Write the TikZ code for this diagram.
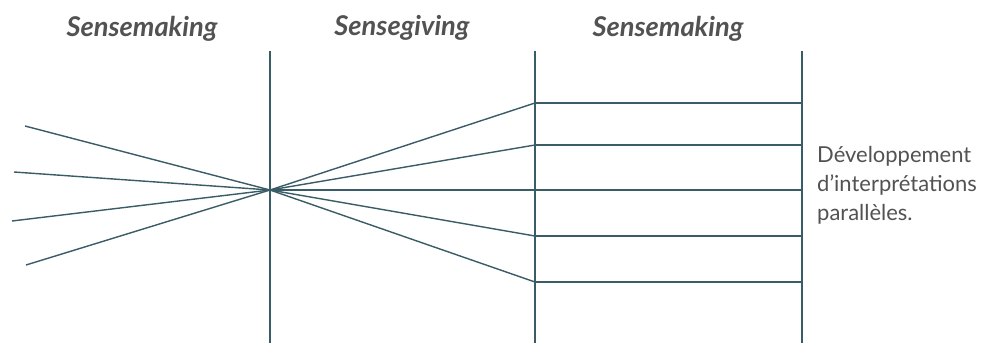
\documentclass[tikz,border=0pt]{standalone}
\usepackage{fontspec}
\setmainfont{Lato}
\usepackage{xcolor}
\usepackage{tikz}
\usetikzlibrary{positioning}
\definecolor{linecol}{RGB}{58,92,102}
\definecolor{textcol}{RGB}{82,82,82}

\begin{document}
\begin{tikzpicture}[x=0.02cm, y=-0.02cm,
    axis/.style={draw=linecol, line width=1.4pt},
    ray/.style={draw=linecol, line width=0.8pt},
    phase/.style={font=\fontsize{15.5}{18}\selectfont\bfseries\itshape, text=textcol}]
    \useasboundingbox (0,0) rectangle (983,345);

    % titles
    \node[phase] (mk1) at (142,29) {Sensemaking};
    \node[phase] (giv) at (402,28) {Sensegiving};
    \node[phase] (mk2) at (668,29) {Sensemaking};

    % vertical axes
    \foreach \n/\x in {a/270, b/535, e/802} {
        \coordinate (\n top) at (\x,51);
        \coordinate (\n bot) at (\x,343);
    }
    \coordinate (c) at (270,190);

    % incoming rays
    \foreach \i/\x/\y in {1/25/126, 2/14/172, 3/12/221, 4/26/265}
        \coordinate (l\i) at (\x,\y);
    % outgoing rays and parallel lines
    \foreach \i/\y in {1/103, 2/145, 3/190, 4/236, 5/282} {
        \coordinate (r\i) at (535,\y);
        \coordinate (s\i) at (802,\y);
    }

    \foreach \i in {1,...,4}
        \draw[ray] (l\i) -- (c);
    \foreach \i in {1,...,5} {
        \draw[ray] (c) -- (r\i);
        \draw[ray] (r\i) -- (s\i);
    }

    \foreach \n in {a,b,e}
        \draw[axis] (\n top) -- (\n bot);

    \node[anchor=west, align=left, text=textcol,
          font=\fontsize{12.5}{16.5}\selectfont] (dev) at (811,185)
        {Développement\\d'interprétations\\parallèles.};

\end{tikzpicture}
\end{document}
